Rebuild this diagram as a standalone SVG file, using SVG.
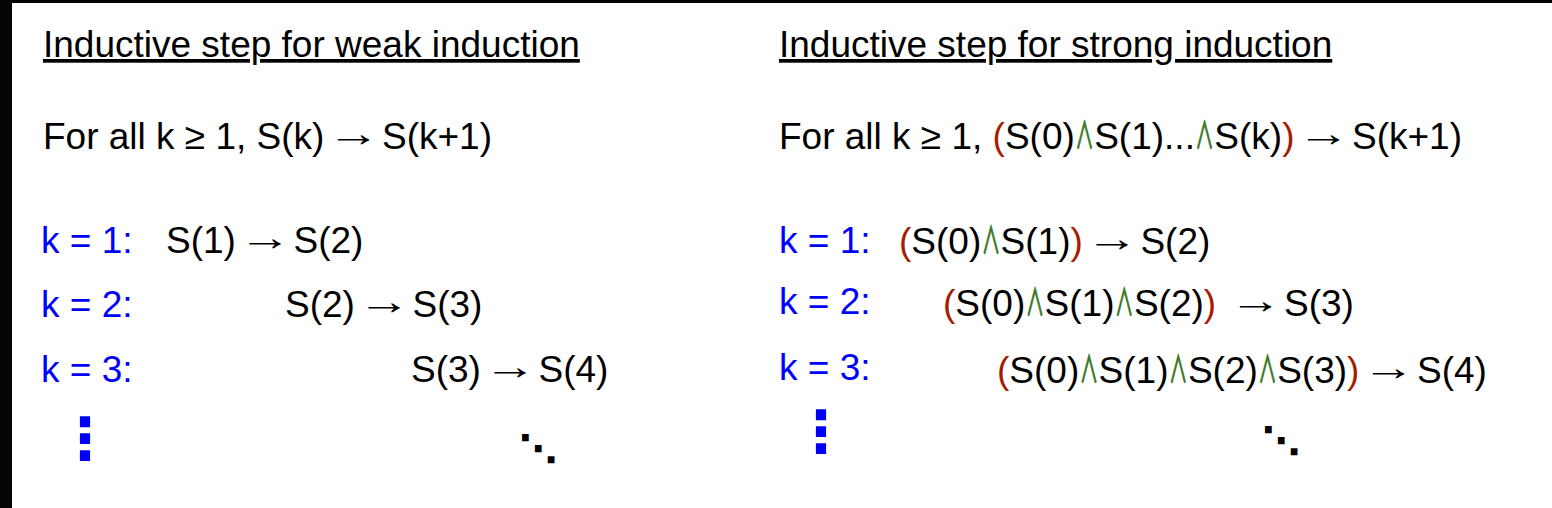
<svg xmlns="http://www.w3.org/2000/svg" width="1552" height="508" viewBox="0 0 1552 508">
<style>
.t{font-family:"Liberation Sans",Arial,sans-serif;font-size:37px;fill:#000;white-space:pre}
.h{text-decoration:underline}
.k{fill:#0000ff}
.p{fill:#a61c00}
.a{fill:#38761d;stroke:#38761d;stroke-width:1.2px;stroke-linejoin:round;font-family:"Noto Sans CJK SC",sans-serif;font-size:37px;text-anchor:middle}
.r{font-family:"Liberation Sans",Arial,sans-serif;font-size:37px;fill:#000;text-anchor:middle}
.vd{font-family:"DejaVu Sans",sans-serif;font-weight:bold;font-size:58px;fill:#0000ff;text-anchor:middle}
.dd{font-family:"DejaVu Sans",sans-serif;font-weight:bold;font-size:38px;fill:#000;text-anchor:middle}
</style>
<rect x="0" y="0" width="1552" height="508" fill="#fff"/>
<rect x="0" y="0" width="12" height="508" fill="#040506"/>
<rect x="0" y="0" width="1552" height="3" fill="#040506"/>
<g id="weak">
<text class="t h" x="43" y="57">Inductive step for weak induction</text>
<text class="t" x="43" y="149">For all k ≥ 1, S(k)</text>
<text class="r" transform="translate(353.2,145.5) scale(1.43,1)">→</text>
<text class="t" x="382" y="149">S(k+1)</text>
<text class="t k" x="41" y="253">k = 1:</text>
<text class="t" x="166" y="253">S(1)</text>
<text class="r" transform="translate(264.7,249.5) scale(1.43,1)">→</text>
<text class="t" x="293.5" y="253">S(2)</text>
<text class="t k" x="41" y="317">k = 2:</text>
<text class="t" x="285" y="317">S(2)</text>
<text class="r" transform="translate(383.7,313.5) scale(1.43,1)">→</text>
<text class="t" x="412.5" y="317">S(3)</text>
<text class="t k" x="41" y="382">k = 3:</text>
<text class="t" x="411" y="382">S(3)</text>
<text class="r" transform="translate(509.7,378.5) scale(1.43,1)">→</text>
<text class="t" x="538.5" y="382">S(4)</text>
<text class="vd" x="85" y="459">⋮</text>
<text class="dd" x="538" y="462">⋱</text>
</g>
<g id="strong">
<text class="t h" x="779" y="57">Inductive step for strong induction</text>
<text class="t" x="779" y="149">For all k ≥ 1, <tspan class="p">(</tspan>S(0)</text>
<text class="a" transform="translate(1084.5,149) scale(0.5,1)">∧</text>
<text class="t" x="1094.2" y="149">S(1)...</text>
<text class="a" transform="translate(1204.6,149) scale(0.5,1)">∧</text>
<text class="t" x="1214.3" y="149">S(k)<tspan class="p">)</tspan></text>
<text class="r" transform="translate(1323.2,145.5) scale(1.43,1)">→</text>
<text class="t" x="1352" y="149">S(k+1)</text>
<text class="t k" x="779" y="253">k = 1:</text>
<text class="t" x="899" y="254"><tspan class="p">(</tspan>S(0)</text>
<text class="a" transform="translate(990.9,254) scale(0.5,1)">∧</text>
<text class="t" x="1000.6" y="254">S(1)<tspan class="p">)</tspan></text>
<text class="r" transform="translate(1111.6,250.5) scale(1.43,1)">→</text>
<text class="t" x="1140.4" y="254">S(2)</text>
<text class="t k" x="779" y="314">k = 2:</text>
<text class="t" x="943" y="316"><tspan class="p">(</tspan>S(0)</text>
<text class="a" transform="translate(1034.9,316) scale(0.5,1)">∧</text>
<text class="t" x="1044.6" y="316">S(1)</text>
<text class="a" transform="translate(1124.2,316) scale(0.5,1)">∧</text>
<text class="t" x="1133.9" y="316">S(2)<tspan class="p">)</tspan></text>
<text class="r" transform="translate(1255.2,312.5) scale(1.43,1)">→</text>
<text class="t" x="1284" y="316">S(3)</text>
<text class="t k" x="779" y="380">k = 3:</text>
<text class="t" x="997" y="383"><tspan class="p">(</tspan>S(0)</text>
<text class="a" transform="translate(1088.9,383) scale(0.5,1)">∧</text>
<text class="t" x="1098.6" y="383">S(1)</text>
<text class="a" transform="translate(1178.2,383) scale(0.5,1)">∧</text>
<text class="t" x="1187.9" y="383">S(2)</text>
<text class="a" transform="translate(1267.5,383) scale(0.5,1)">∧</text>
<text class="t" x="1277.2" y="383">S(3)<tspan class="p">)</tspan></text>
<text class="r" transform="translate(1388.2,379.5) scale(1.43,1)">→</text>
<text class="t" x="1417" y="383">S(4)</text>
<text class="vd" x="821" y="452">⋮</text>
<text class="dd" x="1281" y="454">⋱</text>
</g>
</svg>
